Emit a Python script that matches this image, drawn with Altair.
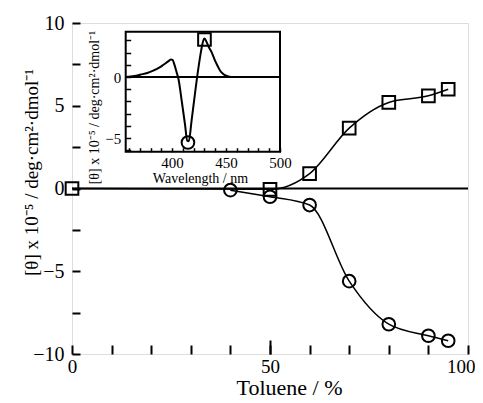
import altair as alt
import pandas as pd

# ---------------- main panel data ----------------
toluene_sq = [0, 50, 60, 70, 80, 90, 95]
theta_sq = [0.0, -0.05, 0.9, 3.65, 5.2, 5.6, 6.0]
toluene_ci = [40, 50, 60, 70, 80, 90, 95]
theta_ci = [-0.1, -0.5, -1.0, -5.6, -8.2, -8.9, -9.2]

x_domain = [0, 100]
y_domain = [-10, 10]
x_ticks = list(range(0, 101, 10))
x_major_ticks = [50]
x_labels = [0, 50, 100]
y_ticks = [-10, -7.5, -5, -2.5, 0, 2.5, 5, 7.5, 10]
y_labels = [-10, -5, 0, 5, 10]

# ---------------- inset data ----------------
inset_wl = [357, 365, 371, 377, 383, 388, 392, 396, 399, 400.5, 402, 404, 406, 409, 412,
            414, 415.5, 418, 421, 424, 427, 429, 430, 432, 434, 437, 439.5, 441.5, 444,
            446, 449, 453, 457, 500]
inset_cd = [0.0, 0.08, 0.2, 0.33, 0.54, 0.76, 1.0, 1.25, 1.42, 1.4, 1.05, 0.45, -0.2, -2.0,
            -3.9, -5.2, -5.25, -3.6, -1.5, 0.5, 2.2, 3.0, 3.15, 2.85, 2.45, 1.95, 1.4, 1.02,
            0.6, 0.35, 0.15, 0.03, 0.0, 0.0]
inset_marker_wl = [414.7, 430]
inset_marker_cd = [-5.35, 3.06]
inset_marker_shape = ["circle", "square"]
inset_x_domain = [357, 500]
inset_y_domain = [-6.1, 3.7]
inset_x_ticks = list(range(360, 501, 10))
inset_x_labels = [400, 450, 500]
inset_y_ticks = list(range(-6, 4))
inset_y_labels = [-5, 0]

y_title = "[θ] x 10⁻⁵ / deg·cm²·dmol⁻¹"
FONT = "Liberation Serif"

W, H = 396, 331
# inset placement inside plot area (pixels)
IX0, IX1 = 53.7, 208.0
IY_TOP, IY_BOT = 8.7, 128.7

# ---------------- main panel ----------------
main_df = pd.DataFrame({
    "toluene": toluene_sq + toluene_ci,
    "theta": theta_sq + theta_ci,
    "marker": ["square"] * len(toluene_sq) + ["circle"] * len(toluene_ci),
})

main_xs = alt.Scale(domain=x_domain, nice=False, zero=False)
main_ys = alt.Scale(domain=y_domain, nice=False, zero=False)

x_main_axis = alt.Axis(orient="bottom", values=x_labels, tickSize=0, domain=False, grid=False,
                       labelFlush=False, labelFontSize=19, labelPadding=3, labelFont=FONT,
                       labelAlign=alt.condition("datum.value == 100", alt.value("right"), alt.value("center")),
                       labelOffset=alt.condition("datum.value == 100", alt.value(7), alt.value(0)),
                       labelColor="black", title="Toluene / %", titleFont=FONT, titleFontSize=22,
                       titleFontWeight="normal", titleColor="black", titleX=217, titleY=40,
                       titleBaseline="alphabetic", zindex=1)
y_main_axis = alt.Axis(orient="left", values=y_labels, tickSize=0, domain=False, grid=False,
                       labelFontSize=20, labelPadding=8, labelFont=FONT, labelColor="black",
                       title=y_title, titleFont=FONT, titleFontSize=19, titleFontWeight="normal",
                       titleColor="black", titleX=-41, titleY=149, titleBaseline="middle",
                       titleAngle=270, zindex=1)

base = alt.Chart(main_df).encode(
    x=alt.X("toluene:Q", scale=main_xs, axis=x_main_axis),
    y=alt.Y("theta:Q", scale=main_ys, axis=y_main_axis),
    detail="marker:N",
)
main_lines = base.mark_line(interpolate="monotone", color="black", strokeWidth=1.5)
main_points = base.mark_point(filled=False, color="black", strokeWidth=2, size=160, opacity=1).encode(
    shape=alt.Shape("marker:N", scale=None)
)
main_group = alt.layer(main_lines, main_points)

# zero line + inward ticks for main panel
zero_df = pd.DataFrame({"x0": [x_domain[0]], "x1": [x_domain[1]], "y": [0]})
main_ticks = alt.Chart(zero_df).mark_rule(color="black", strokeWidth=2).encode(
    x=alt.X("x0:Q", scale=main_xs,
            axis=alt.Axis(orient="top", offset=-H, values=x_ticks, labels=False, tickSize=9,
                          tickWidth=2, tickColor="black", domain=False, grid=False, title=None,
                          zindex=1)),
    x2="x1:Q",
    y=alt.Y("y:Q", scale=main_ys,
            axis=alt.Axis(orient="right", offset=-W, values=y_ticks, labels=False, tickSize=8,
                          tickWidth=2, tickColor="black", domain=False, grid=False, title=None,
                          zindex=1)),
)
# longer major tick at 50 %
major_df = pd.DataFrame({"x": x_major_ticks})
main_major = alt.Chart(major_df).mark_point(opacity=0).encode(
    x=alt.X("x:Q", scale=main_xs,
            axis=alt.Axis(orient="top", offset=-H, values=x_major_ticks, labels=False, tickSize=14,
                          tickWidth=2, tickColor="black", domain=False, grid=False, title=None,
                          zindex=1)),
)

# ---------------- inset ----------------
ins_xs = alt.Scale(domain=inset_x_domain, range=[IX0, IX1], nice=False, zero=False)
ins_ys = alt.Scale(domain=inset_y_domain, range=[IY_BOT, IY_TOP], nice=False, zero=False)

ins_x_axis = alt.Axis(orient="bottom", offset=-(H - IY_BOT), values=inset_x_labels, tickSize=0,
                      domain=False, grid=False, labelFlush=False, labelFontSize=15, labelPadding=4,
                      labelFont=FONT, labelColor="black", title="Wavelength / nm", titleFont=FONT,
                      titleFontSize=14, titleFontWeight="normal", titleColor="black",
                      titleX=128, titleY=31, titleBaseline="alphabetic", zindex=1)
ins_y_axis = alt.Axis(orient="left", offset=-IX0, values=inset_y_labels, tickSize=0, domain=False,
                      grid=False, labelFontSize=15, labelPadding=5, labelFont=FONT,
                      labelColor="black", title=y_title, titleFont=FONT, titleFontSize=14,
                      titleFontWeight="normal", titleColor="black", titleX=-31, titleY=84,
                      titleBaseline="middle", titleAngle=270, zindex=1)

frame_df = pd.DataFrame({"x0": [inset_x_domain[0]], "x1": [inset_x_domain[1]],
                         "y0": [inset_y_domain[0]], "y1": [inset_y_domain[1]]})
ins_frame = alt.Chart(frame_df).mark_rect(fill="white", stroke="black", strokeWidth=2).encode(
    x=alt.X("x0:Q", scale=ins_xs, axis=ins_x_axis),
    x2="x1:Q",
    y=alt.Y("y0:Q", scale=ins_ys, axis=ins_y_axis),
    y2="y1:Q",
)
curve_df = pd.DataFrame({"wl": inset_wl, "cd": inset_cd})
ins_line = alt.Chart(curve_df).mark_line(interpolate="monotone", color="black", strokeWidth=2).encode(
    x=alt.X("wl:Q", scale=ins_xs, axis=ins_x_axis),
    y=alt.Y("cd:Q", scale=ins_ys, axis=ins_y_axis),
)
mk_df = pd.DataFrame({"wl": inset_marker_wl, "cd": inset_marker_cd, "marker": inset_marker_shape})
ins_pts = alt.Chart(mk_df).mark_point(filled=False, color="black", strokeWidth=2, size=160, opacity=1).encode(
    x=alt.X("wl:Q", scale=ins_xs, axis=ins_x_axis),
    y=alt.Y("cd:Q", scale=ins_ys, axis=ins_y_axis),
    shape=alt.Shape("marker:N", scale=None),
)
inset_group = alt.layer(ins_frame, ins_line, ins_pts)

ins_zero_df = pd.DataFrame({"x0": [inset_x_domain[0]], "x1": [inset_x_domain[1]], "y": [0]})
ins_ticks = alt.Chart(ins_zero_df).mark_rule(color="black", strokeWidth=2).encode(
    x=alt.X("x0:Q", scale=ins_xs,
            axis=alt.Axis(orient="top", offset=-IY_BOT, values=inset_x_ticks, labels=False,
                          tickSize=4, tickWidth=1.5, tickColor="black", domain=False, grid=False,
                          title=None, zindex=2)),
    x2="x1:Q",
    y=alt.Y("y:Q", scale=ins_ys,
            axis=alt.Axis(orient="right", offset=-(W - IX0), values=inset_y_ticks, labels=False,
                          tickSize=5, tickWidth=1.5, tickColor="black", domain=False, grid=False,
                          title=None, zindex=2)),
)

chart = alt.layer(main_group, main_ticks, main_major, inset_group, ins_ticks).resolve_scale(
    x="independent", y="independent"
).properties(
    width=W, height=H,
    autosize=alt.AutoSizeParams(type="none"),
    padding={"left": 64, "top": 15, "right": 7, "bottom": 45},
).configure_view(
    stroke="black", strokeWidth=2
).configure(background="white")

chart.save("out.html", embed_options={"renderer": "svg", "actions": False})
